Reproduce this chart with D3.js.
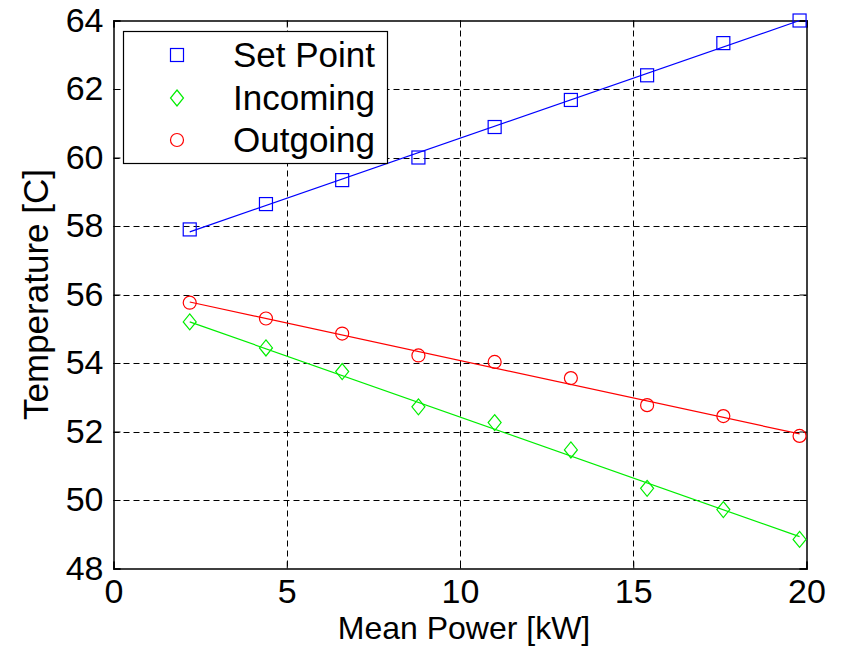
<!DOCTYPE html>
<html><head><meta charset="utf-8">
<script src="https://cdn.jsdelivr.net/npm/d3@7"></script>
<style>body{margin:0;background:#fff}svg{display:block}</style>
</head><body>
<script>
const powerKW = [2.2, 4.4, 6.6, 8.8, 11.0, 13.2, 15.4, 17.6, 19.8];
const setPoint = [57.9, 58.64, 59.34, 60.0, 60.89, 61.68, 62.4, 63.34, 64.0];
const incoming = [55.2, 54.44, 53.75, 52.72, 52.26, 51.46, 50.34, 49.72, 48.85];
const outgoing = [55.76, 55.3, 54.86, 54.22, 54.03, 53.56, 52.77, 52.45, 51.87];
const fitX = [2.2, 19.8];
const fitSet = [57.83, 64.0];
const fitIn = [55.2, 48.93];
const fitOut = [55.78, 51.93];
const xTicks = [0, 5, 10, 15, 20];
const yTicks = [48, 50, 52, 54, 56, 58, 60, 62, 64];
const seriesNames = ["Set Point", "Incoming", "Outgoing"];

const W = 843, H = 647;
const m = {l: 113.5, r: 843 - 806.5, t: 20.5, b: 647 - 568.5};
const svg = d3.select("body").append("svg").attr("width", W).attr("height", H)
  .style("font-family", "'Liberation Sans', Arial, sans-serif");
const x = d3.scaleLinear().domain([0, 20]).range([m.l, W - m.r]);
const y = d3.scaleLinear().domain([48, 64]).range([H - m.b, m.t]);

// grid
const g = svg.append("g");
g.selectAll(".vg").data(xTicks.slice(1, -1)).enter().append("line")
  .attr("x1", d => Math.round(x(d)) + 0.5).attr("x2", d => Math.round(x(d)) + 0.5)
  .attr("y1", y(64)).attr("y2", y(48))
  .attr("stroke", "#000").attr("stroke-width", 1).attr("stroke-dasharray", "6,4");
g.selectAll(".hg").data(yTicks.slice(1, -1)).enter().append("line")
  .attr("y1", d => Math.round(y(d)) + 0.5).attr("y2", d => Math.round(y(d)) + 0.5)
  .attr("x1", x(0)).attr("x2", x(20))
  .attr("stroke", "#000").attr("stroke-width", 1).attr("stroke-dasharray", "6,4");

// axes with inward ticks
const fs = "34px";
const axB = svg.append("g").attr("transform", `translate(0,${y(48)})`)
  .call(d3.axisBottom(x).tickValues(xTicks).tickSize(-7).tickPadding(10));
const axT = svg.append("g").attr("transform", `translate(0,${y(64)})`)
  .call(d3.axisTop(x).tickValues(xTicks).tickSize(-7).tickFormat(""));
const axL = svg.append("g").attr("transform", `translate(${x(0)},0)`)
  .call(d3.axisLeft(y).tickValues(yTicks).tickSize(-7).tickPadding(10));
const axR = svg.append("g").attr("transform", `translate(${x(20)},0)`)
  .call(d3.axisRight(y).tickValues(yTicks).tickSize(-7).tickFormat(""));
[axB, axT, axL, axR].forEach(a => {
  a.select(".domain").attr("stroke", "#000").attr("stroke-width", 1.5);
  a.selectAll(".tick line").attr("stroke", "#000");
  a.selectAll("text").attr("fill", "#000").style("font-size", fs).style("font-family", "'Liberation Sans', Arial, sans-serif");
});

// fit lines
const colors = ["#0000ff", "#00ee00", "#ff0000"];
const fits = [fitSet, fitIn, fitOut];
fits.forEach((f, i) => {
  svg.append("line").attr("x1", x(fitX[0])).attr("y1", y(f[0]))
    .attr("x2", x(fitX[1])).attr("y2", y(f[1]))
    .attr("stroke", colors[i]).attr("stroke-width", 1.2);
});

// markers
function drawMarker(sel, type, cx, cy, color) {
  if (type === 0) {
    sel.append("rect").attr("x", cx - 6.5).attr("y", cy - 6.5).attr("width", 13).attr("height", 13)
      .attr("fill", "none").attr("stroke", color).attr("stroke-width", 1.2);
  } else if (type === 1) {
    sel.append("path").attr("d", `M${cx},${cy - 8}L${cx + 6.5},${cy}L${cx},${cy + 8}L${cx - 6.5},${cy}Z`)
      .attr("fill", "none").attr("stroke", color).attr("stroke-width", 1.2);
  } else {
    sel.append("circle").attr("cx", cx).attr("cy", cy).attr("r", 6.5)
      .attr("fill", "none").attr("stroke", color).attr("stroke-width", 1.2);
  }
}
[setPoint, incoming, outgoing].forEach((s, i) => {
  const gg = svg.append("g");
  s.forEach((v, j) => drawMarker(gg, i, x(powerKW[j]), y(v), colors[i]));
});

// legend
const lg = svg.append("g");
lg.append("rect").attr("x", 123.5).attr("y", 31.5).attr("width", 264).attr("height", 132)
  .attr("fill", "#fff").attr("stroke", "#000").attr("stroke-width", 1.2);
const rowsY = [55, 98, 140];
seriesNames.forEach((n, i) => {
  drawMarker(lg, i, 177, rowsY[i], colors[i]);
  lg.append("text").attr("x", 233).attr("y", rowsY[i] + 12).text(n)
    .style("font-size", "35px").attr("fill", "#000");
});

// axis labels
svg.append("text").attr("x", (x(0) + x(20)) / 2 + 4).attr("y", 639).attr("text-anchor", "middle")
  .style("font-size", "32px").text("Mean Power [kW]");
svg.append("text").attr("transform", `translate(48,${(y(48) + y(64)) / 2}) rotate(-90)`)
  .attr("text-anchor", "middle").style("font-size", "35px").text("Temperature [C]");
</script>
</body></html>
